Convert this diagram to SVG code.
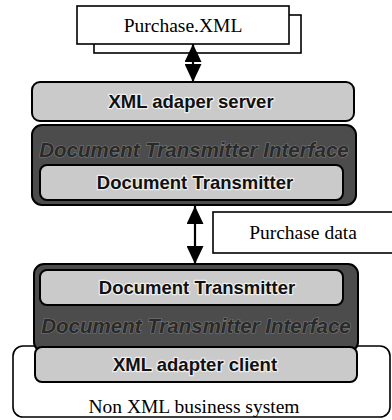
<svg xmlns="http://www.w3.org/2000/svg" width="392" height="420" viewBox="0 0 392 420">
<style>
.doc{fill:#fff;stroke:#000;stroke-width:1.6}
.light{fill:#cacaca;stroke:#000;stroke-width:2}
.dark{fill:#4c4c4c;stroke:#000;stroke-width:2}
.serif{font-family:"Liberation Serif","Times New Roman",serif;font-size:19.5px;fill:#000;text-anchor:middle}
.bold{font-family:"Liberation Sans",Arial,sans-serif;font-weight:bold;font-size:18.5px;fill:#111;text-anchor:middle;stroke:#eee;stroke-width:2.5;paint-order:stroke;stroke-linejoin:round}
.ital{font-family:"Liberation Sans",Arial,sans-serif;font-weight:bold;font-style:italic;font-size:20.5px;fill:#2a2a2a;text-anchor:middle;stroke:#7a7a7a;stroke-width:1.2;paint-order:stroke}
.conn{stroke:#000;stroke-width:2.2;fill:none}
</style>
<defs>
<marker id="ah" viewBox="0 0 10 10" refX="10" refY="5" markerWidth="18" markerHeight="17" markerUnits="userSpaceOnUse" orient="auto-start-reverse" preserveAspectRatio="none">
<path d="M0,0 L10,5 L0,10 Z" fill="#000"/>
</marker>
</defs>
<g id="purchase-xml">
<rect class="doc" x="94" y="15" width="207" height="38"/>
<rect class="doc" x="77" y="6" width="212" height="38"/>
<text class="serif" x="183" y="32">Purchase.XML</text>
</g>
<g id="xml-adapter-server">
<rect class="light" x="32" y="82" width="322" height="39" rx="8"/>
<text class="bold" x="191" y="108">XML adaper server</text>
</g>
<g id="server-interface">
<rect class="dark" x="32" y="125" width="324" height="80" rx="10"/>
<text class="ital" x="194" y="157">Document Transmitter Interface</text>
<rect class="light" x="40" y="165" width="303" height="35" rx="7"/>
<text class="bold" x="195" y="189">Document Transmitter</text>
</g>
<g id="purchase-data">
<rect class="doc" x="213" y="212" width="182" height="41"/>
<text class="serif" x="303" y="239">Purchase data</text>
</g>
<g id="non-xml-system">
<rect class="doc" x="13" y="346" width="377" height="71" rx="10" stroke-width="2"/>
<text class="serif" x="194" y="413">Non XML business system</text>
</g>
<g id="client-interface">
<rect class="dark" x="34" y="264" width="324" height="88" rx="10"/>
<rect class="light" x="40" y="270" width="303" height="35" rx="7"/>
<text class="bold" x="197" y="294">Document Transmitter</text>
<text class="ital" x="196" y="333">Document Transmitter Interface</text>
</g>
<g id="xml-adapter-client">
<rect class="light" x="35" y="347" width="322" height="35" rx="7"/>
<text class="bold" x="195" y="371">XML adapter client</text>
</g>
<g id="connectors">
<line class="conn" x1="193" y1="44" x2="193" y2="82" marker-start="url(#ah)" marker-end="url(#ah)"/>
<line class="conn" x1="195" y1="206" x2="195" y2="264" marker-start="url(#ah)" marker-end="url(#ah)"/>
</g>
</svg>
